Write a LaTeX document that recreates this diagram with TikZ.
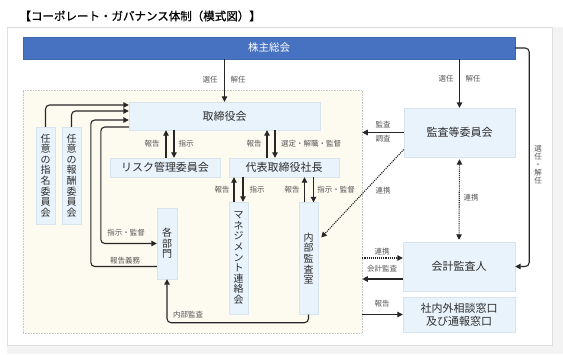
\documentclass[tikz,border=0pt]{standalone}
\usepackage{fontspec}
\setmainfont{Noto Sans CJK JP}
\newfontfamily\titlefont{Noto Sans CJK JP}[FakeBold=0.8]
\usetikzlibrary{arrows, arrows.meta, calc}
\definecolor{shblue}{RGB}{70,114,193}
\definecolor{boxfill}{RGB}{232,243,252}
\definecolor{boxline}{RGB}{214,228,240}
\definecolor{cream}{RGB}{253,251,240}
\definecolor{txt}{RGB}{45,45,45}
\definecolor{lbltxt}{RGB}{85,85,85}
\definecolor{panelbg}{RGB}{243,243,243}

\begin{document}
\begin{tikzpicture}[x=1pt, y=-1pt,
  box/.style={draw=boxline, fill=boxfill, text=txt, inner sep=0pt, font=\fontsize{11}{13}\selectfont},
  vbox/.style={box, align=center, font=\fontsize{10}{10.6}\selectfont},
  lbl/.style={text=lbltxt, inner sep=0pt, font=\fontsize{7.5}{8}\selectfont},
  arr/.style={>={Triangle[length=5.5pt,width=5.5pt]}, line width=1.1pt, draw=black!85},
  dotarr/.style={arr, densely dotted}]

\useasboundingbox (0,0) rectangle (563,354);
\fill[white] (0,0) rectangle (563,354);
\fill[panelbg] (7,27) rectangle (563,354);
\draw[gray!25, fill=white] (7,27) rectangle (552,345);

\node[anchor=west, text=black, font=\titlefont\fontsize{11.5}{13}\selectfont] (title) at (16,16) {【コーポレート・ガバナンス体制（模式図）】};

\node[fill=cream, draw=gray!45, densely dotted, line width=0.6pt, minimum width=339pt, minimum height=243pt, inner sep=0pt] (inner) at (192.5,211.5) {};

\node[fill=shblue, draw=shblue!90!black, text=white, inner sep=0pt, minimum width=492pt, minimum height=22pt, font=\fontsize{10.5}{12}\selectfont] (sh) at (269,48) {株主総会};

\node[box, minimum width=191pt, minimum height=28pt] (bod) at (224.5,116) {取締役会};
\node[box, minimum width=110pt, minimum height=19pt] (risk) at (165,167.5) {リスク管理委員会};
\node[box, minimum width=110pt, minimum height=19pt] (ceo) at (284,167.5) {代表取締役社長};
\node[vbox, minimum width=19pt, minimum height=97pt] (nom) at (45.5,175.5) {任\\意\\の\\指\\名\\委\\員\\会};
\node[vbox, minimum width=19pt, minimum height=97pt] (rem) at (71.5,175.5) {任\\意\\の\\報\\酬\\委\\員\\会};
\node[vbox, minimum width=20pt, minimum height=71pt] (dept) at (167,243.5) {各\\部\\門};
\node[vbox, minimum width=19pt, minimum height=112pt] (mgmt) at (238.5,258) {マ\\ネ\\ジ\\メ\\ン\\ト\\連\\絡\\会};
\node[vbox, minimum width=19pt, minimum height=112pt] (audit) at (308.5,258.5) {内\\部\\監\\査\\室};
\node[box, minimum width=111pt, minimum height=49pt] (ac) at (459.5,132.5) {監査等委員会};
\node[box, minimum width=112pt, minimum height=49pt] (ext) at (459,266.5) {会計監査人};
\node[box, align=center, minimum width=112pt, minimum height=35pt] (desk) at (459,314.5) {社内外相談窓口\\及び通報窓口};

\node[lbl] (sel1) at (210,80) {選任};
\node[lbl] (dis1) at (238,80) {解任};
\node[lbl] (sel2) at (446,79) {選任};
\node[lbl] (dis2) at (473,79) {解任};
\node[lbl, align=center] (selv) at (538,165) {選\\任\\・\\解\\任};
\node[lbl] (rep1) at (152,144) {報告};
\node[lbl] (ins1) at (186,144) {指示};
\node[lbl] (rep2) at (254,144) {報告};
\node[lbl] (sup1) at (311,144) {選定・解職・監督};
\node[lbl] (rep3) at (222,190) {報告};
\node[lbl] (ins2) at (257,190) {指示};
\node[lbl] (rep4) at (292,190) {報告};
\node[lbl] (ins3) at (336,190) {指示・監督};
\node[lbl] (ins4) at (126,233) {指示・監督};
\node[lbl] (duty) at (125,261) {報告義務};
\node[lbl] (ia) at (188,315) {内部監査};
\node[lbl] (aud) at (383,125) {監査};
\node[lbl] (inv) at (383,139) {調査};
\node[lbl] (coop1) at (383,191) {連携};
\node[lbl] (coop2) at (471,198) {連携};
\node[lbl] (coop3) at (382,252) {連携};
\node[lbl] (acct) at (382,269) {会計監査};
\node[lbl] (rep5) at (382,304) {報告};

\draw[arr, ->] (sh.south -| bod.north) -- (bod.north);
\draw[arr, ->] (sh.south -| ac.north) -- (ac.north);
\draw[arr, ->, rounded corners=4pt] (sh.east) -- ++(14,0) |- (ext.east);

\draw[arr, ->, rounded corners=4pt] (nom.north) |- ($(bod.west)+(0,-11)$);
\draw[arr, ->, rounded corners=4pt] (rem.north) |- ($(bod.west)+(0,-5)$);
\draw[arr, ->, rounded corners=4pt] ($(dept.west)+(0,23)$) -- ++(-66,0) |- ($(bod.west)+(0,4)$);
\draw[arr, ->, rounded corners=4pt] ($(bod.west)+(0,11)$) -- ++(-28,0) |- (dept.west);

\draw[arr, ->] ($(risk.north)+(1,0)$) -- ($(risk.north |- bod.south)+(1,0)$);
\draw[arr, ->] ($(risk.north |- bod.south)+(9,0)$) -- ($(risk.north)+(9,0)$);
\draw[arr, ->] ($(ceo.north)+(-17,0)$) -- ($(ceo.north |- bod.south)+(-17,0)$);
\draw[arr, ->] ($(ceo.north |- bod.south)+(-9,0)$) -- ($(ceo.north)+(-9,0)$);
\draw[arr, ->] ($(mgmt.north)+(-4.5,0)$) -- ($(mgmt.north |- ceo.south)+(-4.5,0)$);
\draw[arr, ->] ($(mgmt.north |- ceo.south)+(4.5,0)$) -- ($(mgmt.north)+(4.5,0)$);
\draw[arr, ->] ($(audit.north)+(-4,0)$) -- ($(audit.north |- ceo.south)+(-4,0)$);
\draw[arr, ->] ($(audit.north |- ceo.south)+(5,0)$) -- ($(audit.north)+(5,0)$);
\draw[arr, ->, rounded corners=4pt] (audit.south) -- ++(0,8) -| (dept.south);

\draw[arr, ->] (ac.west) -- (ac.west -| inner.east);
\draw[dotarr, ->] ($(ac.west)+(0,17)$) -- ($(audit.east)+(3,-21)$);
\draw[dotarr, <->, shorten <=2pt, shorten >=2pt] (ac.south) -- (ext.north);
\draw[dotarr, ->] ($(ext.west -| inner.east)+(0,-8.5)$) -- ($(ext.west)+(0,-8.5)$);
\draw[arr, ->] ($(ext.west)+(0,12.5)$) -- ($(ext.west -| inner.east)+(0,12.5)$);
\draw[arr, ->] (desk.west -| inner.east) -- (desk.west);
\end{tikzpicture}
\end{document}
